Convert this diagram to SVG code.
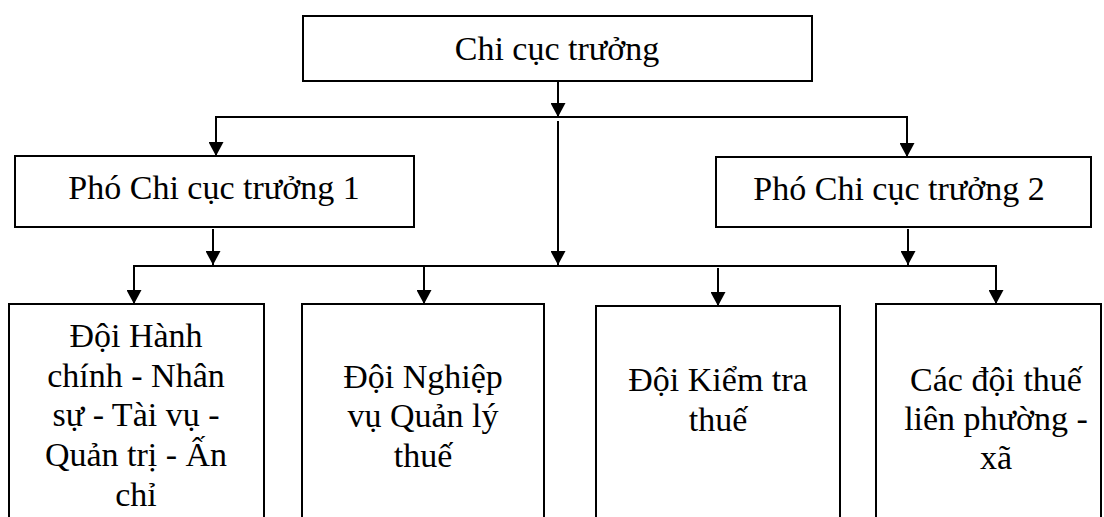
<svg xmlns="http://www.w3.org/2000/svg" width="1104" height="517" viewBox="0 0 1104 517">
<style>
.box{fill:#fff;stroke:#000;stroke-width:2}
.t{font-family:"Liberation Serif","Times New Roman",serif;font-size:34px;fill:#000;text-anchor:middle}
.c{stroke:#000;stroke-width:2;fill:none}
.a{marker-end:url(#ah)}
</style>
<defs>
<marker id="ah" viewBox="0 0 14 15" refX="14" refY="7.5" markerWidth="14" markerHeight="15" markerUnits="userSpaceOnUse" orient="auto">
<path d="M0,0 L14,7.5 L0,15 z" fill="#000"/>
</marker>
</defs>
<rect width="1104" height="517" fill="#fff"/>
<g id="connectors">
<line class="c a" x1="558" y1="81" x2="558" y2="117"/>
<line class="c" x1="215" y1="117" x2="908" y2="117"/>
<line class="c a" x1="216" y1="117" x2="216" y2="156"/>
<line class="c a" x1="907" y1="117" x2="907" y2="157"/>
<line class="c a" x1="558" y1="121" x2="558" y2="265"/>
<line class="c a" x1="213" y1="229" x2="213" y2="265"/>
<line class="c a" x1="908" y1="229" x2="908" y2="265"/>
<line class="c" x1="133" y1="266" x2="997" y2="266"/>
<line class="c a" x1="134" y1="266" x2="134" y2="304"/>
<line class="c a" x1="424" y1="266" x2="424" y2="304"/>
<line class="c a" x1="718" y1="268" x2="718" y2="306"/>
<line class="c a" x1="996" y1="266" x2="996" y2="304"/>
</g>
<g id="chi-cuc-truong">
<rect class="box" x="303" y="16" width="509" height="65"/>
<text class="t" x="557" y="60">Chi cục trưởng</text>
</g>
<g id="pho-1">
<rect class="box" x="15" y="156" width="399" height="71"/>
<text class="t" x="214" y="199">Phó Chi cục trưởng 1</text>
</g>
<g id="pho-2">
<rect class="box" x="716" y="157" width="375" height="70"/>
<text class="t" x="899" y="200">Phó Chi cục trưởng 2</text>
</g>
<g id="doi-hanh-chinh">
<rect class="box" x="9" y="304" width="255" height="230"/>
<text class="t" x="136" y="347">Đội Hành</text>
<text class="t" x="136" y="387">chính - Nhân</text>
<text class="t" x="136" y="426">sự - Tài vụ -</text>
<text class="t" x="136" y="466">Quản trị - Ấn</text>
<text class="t" x="136" y="506">chỉ</text>
</g>
<g id="doi-nghiep-vu">
<rect class="box" x="302" y="304" width="242" height="230"/>
<text class="t" x="423" y="388">Đội Nghiệp</text>
<text class="t" x="423" y="427">vụ Quản lý</text>
<text class="t" x="423" y="467">thuế</text>
</g>
<g id="doi-kiem-tra">
<rect class="box" x="596" y="306" width="244" height="230"/>
<text class="t" x="718" y="391">Đội Kiểm tra</text>
<text class="t" x="718" y="431">thuế</text>
</g>
<g id="cac-doi-thue">
<rect class="box" x="876" y="304" width="225" height="230"/>
<text class="t" x="996" y="391">Các đội thuế</text>
<text class="t" x="996" y="430">liên phường -</text>
<text class="t" x="996" y="469">xã</text>
</g>
</svg>
